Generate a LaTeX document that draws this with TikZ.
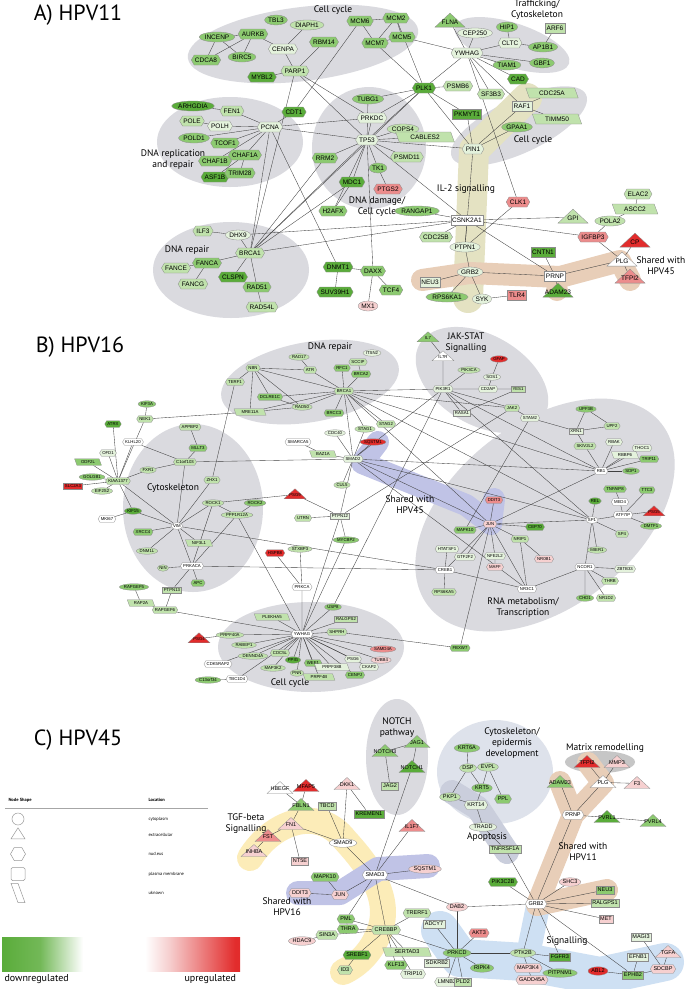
\documentclass[tikz,border=0pt]{standalone}
\usepackage{fontspec}
\setmainfont{Liberation Sans}
\newfontfamily\labfont{PT Sans}
\usetikzlibrary{shapes.geometric,shapes.symbols}

\definecolor{cg4}{RGB}{90,172,58}
\definecolor{cg3}{RGB}{140,202,112}
\definecolor{cg2}{RGB}{192,226,172}
\definecolor{cg1}{RGB}{228,242,220}
\definecolor{cr1}{RGB}{246,208,208}
\definecolor{cr2}{RGB}{236,140,140}
\definecolor{cr3}{RGB}{226,44,44}
\definecolor{blobgray}{RGB}{218,218,223}
\definecolor{iltwo}{RGB}{228,226,194}
\definecolor{bandtan}{RGB}{232,206,184}
\definecolor{lav}{RGB}{192,195,230}
\definecolor{yel}{RGB}{252,236,184}
\definecolor{sky}{RGB}{206,224,243}
\definecolor{apop}{RGB}{202,206,220}
\definecolor{epid}{RGB}{222,226,235}

\pgfdeclarelayer{blobs}
\pgfdeclarelayer{links}
\pgfsetlayers{blobs,links,main}

\pgfdeclarehorizontalshading{regbar}{100bp}{color(0bp)=(cg4); color(25bp)=(cg4); color(33bp)=(cg4!85); color(42bp)=(white); color(55bp)=(white); color(60bp)=(cr1); color(74bp)=(cr3); color(100bp)=(cr3)}

\newcommand\tridrop{0pt}
\newcommand\tritext[1]{\smash{\makebox[0pt]{\raisebox{-\tridrop}{#1}}}}

\begin{document}
\begin{tikzpicture}[x=1pt,y=-1pt]
  \tikzset{
    gene/.style={draw=black!45, line width=0.3pt},
    ell/.style={gene, ellipse, inner xsep=0.3pt, inner ysep=0pt},
    hex/.style={gene, signal, signal to=east and west, signal pointer angle=120, inner xsep=0.8pt, inner ysep=0.6pt},
    box/.style={gene, rectangle, inner xsep=1.5pt, inner ysep=0.6pt},
    par/.style={gene, trapezium, trapezium left angle=110, trapezium right angle=70, inner xsep=0.3pt, inner ysep=0.6pt},
    tri/.style={gene, isosceles triangle, isosceles triangle apex angle=110, shape border rotate=90, isosceles triangle stretches, inner sep=0pt},
    sa/.style={font=\fontsize{6.5}{6.5}\selectfont, minimum height=10pt},
    sb/.style={font=\fontsize{4.3}{4.3}\selectfont, minimum height=6.5pt},
    sc/.style={font=\fontsize{5.5}{5.5}\selectfont, minimum height=8.5pt},
    ta/.style={tri, font=\fontsize{6.5}{6.5}\selectfont, minimum width=30pt, minimum height=14pt, yshift=0.8pt, /utils/exec={\def\tridrop{3.1pt}}},
    tb/.style={tri, font=\fontsize{4.3}{4.3}\selectfont, minimum width=22pt, minimum height=10pt, yshift=0.5pt, /utils/exec={\def\tridrop{2pt}}},
    tc/.style={tri, font=\fontsize{5.5}{5.5}\selectfont, minimum width=26pt, minimum height=12pt, yshift=0.6pt, /utils/exec={\def\tridrop{2.5pt}}},
    g4/.style={fill=cg4}, g3/.style={fill=cg3}, g2/.style={fill=cg2}, g1/.style={fill=cg1},
    g0/.style={fill=white},
    r1/.style={fill=cr1}, r2/.style={fill=cr2}, r3/.style={fill=cr3},
    link/.style={draw=black!75, line width=0.35pt},
    blob/.style={fill=blobgray},
    band/.style={line cap=round, line join=round},
    grp/.style={font=\labfont\fontsize{9.5}{11}\selectfont, align=center},
    title/.style={font=\labfont\fontsize{22}{22}\selectfont},
    legshape/.style={draw=gray!80, line width=0.5pt, fill=white, inner sep=0pt},
    legtext/.style={anchor=west, font=\labfont\fontsize{4.5}{5}\selectfont},
  }
  \useasboundingbox (0,0) rectangle (685,989);

  % ---------- A) HPV11
  \node[title] (titleA) at (78,15) {A) HPV11};
  \node[grp] (lccA) at (333,10) {Cell cycle};
  \node[grp] (ltraf) at (537,10) {Trafficking/\\Cytoskeleton};
  \node[grp] (lrepl) at (173,160) {DNA replication\\and repair};
  \node[grp] (ldam) at (377,207) {DNA damage/\\Cell cycle};
  \node[grp] (lil2) at (466,189) {IL-2 signalling};
  \node[grp] (lccA2) at (533,140) {Cell cycle};
  \node[grp] (lrepA) at (187,250) {DNA repair};
  \node[grp] (lshA) at (661,266) {Shared with\\HPV45};

  \node[ell,sa,g3] (incenp) at (217,37) {INCENP};
  \node[hex,sa,g3] (cdca8) at (206,60) {CDCA8};
  \node[hex,sa,g3] (aurkb) at (253,34) {AURKB};
  \node[ell,sa,g3] (birc5) at (242,57) {BIRC5};
  \node[ell,sa,g3] (tbl3) at (276,20) {TBL3};
  \node[ell,sa,g2] (diaph1) at (307,25) {DIAPH1};
  \node[hex,sa,g1] (cenpa) at (283,49) {CENPA};
  \node[hex,sa,g3] (rbm14) at (324,42) {RBM14};
  \node[hex,sa,g2] (parp1) at (295,71) {PARP1};
  \node[hex,sa,g4] (mybl2) at (262,77) {MYBL2};
  \node[hex,sa,g3] (mcm6) at (360,21) {MCM6};
  \node[hex,sa,g3] (mcm2) at (396,18) {MCM2};
  \node[hex,sa,g3] (mcm7) at (375,43) {MCM7};
  \node[hex,sa,g3] (mcm5) at (402,37) {MCM5};

  \node[ta,g3] (flna) at (450,22) {\tritext{FLNA}};
  \node[ell,sa,g1] (cep250) at (475,33) {CEP250};
  \node[ell,sa,g3] (hip1) at (507,27) {HIP1};
  \node[box,sa,g2] (arf6) at (555,28) {ARF6};
  \node[hex,sa,g1] (cltc) at (510,43) {CLTC};
  \node[ell,sa,g3] (ap1b1) at (543,47) {AP1B1};
  \node[hex,sa,g1] (ywhagA) at (467,53) {YWHAG};
  \node[ell,sa,g3] (tiam1) at (507,65) {TIAM1};
  \node[ell,sa,g3] (gbf1) at (542,63) {GBF1};
  \node[hex,sa,g4] (cad) at (518,79) {CAD};
  \node[hex,sa,g2] (psmb6) at (458,86) {PSMB6};
  \node[hex,sa,g2] (sf3b3) at (491,94) {SF3B3};
  \node[box,sa,g1] (raf1) at (522,106) {RAF1};
  \node[par,sa,g2] (cdc25a) at (552,93) {CDC25A};
  \node[par,sa,g2] (timm50) at (557,119) {TIMM50};
  \node[box,sa,g4] (pkmyt1) at (467,114) {PKMYT1};
  \node[ell,sa,g3] (gpaa1) at (517,127) {GPAA1};
  \node[hex,sa,g1] (pin1) at (473,149) {PIN1};
  \node[hex,sa,g4] (plk1) at (424,88) {PLK1};

  \node[ell,sa,g4] (arhgdia) at (193,106) {ARHGDIA};
  \node[hex,sa,g2] (fen1) at (232,111) {FEN1};
  \node[hex,sa,g2] (pole) at (192,121) {POLE};
  \node[hex,sa,g1] (polh) at (220,126) {POLH};
  \node[hex,sa,g1] (pcna) at (270,127) {PCNA};
  \node[ell,sa,g3] (pold1) at (194,138) {POLD1};
  \node[hex,sa,g3] (tcof1) at (225,143) {TCOF1};
  \node[hex,sa,g3] (chaf1b) at (215,161) {CHAF1B};
  \node[hex,sa,g3] (chaf1a) at (245,155) {CHAF1A};
  \node[hex,sa,g4] (asf1b) at (215,177) {ASF1B};
  \node[hex,sa,g3] (trim28) at (240,173) {TRIM28};
  \node[hex,sa,g4] (cdt1) at (294,112) {CDT1};

  \node[ell,sa,g3] (tubg1) at (368,99) {TUBG1};
  \node[hex,sa,g1] (prkdc) at (372,118) {PRKDC};
  \node[ell,sa,g2] (cops4) at (403,129) {COPS4};
  \node[par,sa,g2] (cables2) at (425,137) {CABLES2};
  \node[hex,sa,g1] (tp53) at (367,140) {TP53};
  \node[hex,sa,g3] (rrm2) at (325,158) {RRM2};
  \node[hex,sa,g2] (psmd11) at (407,157) {PSMD11};
  \node[ell,sa,g3] (tk1) at (378,168) {TK1};
  \node[hex,sa,g4] (mdc1) at (352,182) {MDC1};
  \node[hex,sa,r2] (ptgs2) at (388,189) {PTGS2};
  \node[hex,sa,g3] (h2afx) at (333,211) {H2AFX};
  \node[ell,sa,g3] (rangap1) at (417,211) {RANGAP1};
  \node[hex,sa,g2] (cdc25b) at (436,237) {CDC25B};

  \node[box,sa,g0] (csnk2a1) at (467,220) {CSNK2A1};
  \node[hex,sa,r2] (clk1) at (518,202) {CLK1};
  \node[hex,sa,g2] (elac2) at (638,194) {ELAC2};
  \node[par,sa,g2] (ascc2) at (635,209) {ASCC2};
  \node[ta,g2] (gpi) at (573,218) {\tritext{GPI}};
  \node[ell,sa,g2] (pola2) at (610,221) {POLA2};
  \node[hex,sa,r2] (igfbp3) at (593,237) {IGFBP3};
  \node[ta,r3] (cp) at (635,242) {\tritext{CP}};
  \node[ell,sa,g1] (ptpn1) at (465,247) {PTPN1};
  \node[box,sa,g4] (cntn1) at (543,252) {CNTN1};
  \node[ell,sa,g1] (grb2A) at (470,272) {GRB2};
  \node[ell,sa,g3] (rps6ka1) at (447,297) {RPS6KA1};
  \node[ell,sa,g1] (syk) at (482,299) {SYK};
  \node[box,sa,r2] (tlr4) at (517,295) {TLR4};
  \node[box,sa,g0] (prnpA) at (555,276) {PRNP};
  \node[ta,g4] (adam23A) at (558,292) {\tritext{ADAM23}};
  \node[ta,g0] (plgA) at (622,261) {\tritext{PLG}};
  \node[ta,r2] (tfpi2A) at (630,278) {\tritext{TFPI2}};
  \node[box,sa,g1] (neu3A) at (430,282) {NEU3};

  \node[ell,sa,g1] (dhx9) at (238,235) {DHX9};
  \node[hex,sa,g2] (ilf3) at (203,231) {ILF3};
  \node[hex,sa,g2] (brca1A) at (250,253) {BRCA1};
  \node[hex,sa,g2] (fance) at (176,268) {FANCE};
  \node[hex,sa,g3] (fanca) at (207,263) {FANCA};
  \node[hex,sa,g2] (fancg) at (193,284) {FANCG};
  \node[hex,sa,g4] (clspn) at (233,277) {CLSPN};
  \node[hex,sa,g3] (rad51) at (257,287) {RAD51};
  \node[hex,sa,g2] (rad54l) at (262,307) {RAD54L};
  \node[hex,sa,g4] (dnmt1) at (338,267) {DNMT1};
  \node[hex,sa,g3] (daxx) at (373,271) {DAXX};
  \node[hex,sa,g4] (suv39h1) at (335,292) {SUV39H1};
  \node[hex,sa,g3] (tcf4) at (391,290) {TCF4};
  \node[ell,sa,r1] (mx1) at (368,306) {MX1};

  % ---------- B) HPV16
  \node[title] (titleB) at (80,347) {B) HPV16};
  \node[grp] (lrepB) at (330,347) {DNA repair};
  \node[grp] (ljak) at (466,343) {JAK-STAT\\Signalling};
  \node[grp] (lcyto) at (173,488) {Cytoskeleton};
  \node[grp] (lshB) at (410,505) {Shared with\\HPV45};
  \node[grp] (lrna) at (523,608) {RNA metabolism/\\Transcription};
  \node[grp] (lccB) at (290,683) {Cell cycle};

  \node[ell,sb,g3] (kif3a) at (147,404) {KIF3A};
  \node[hex,sb,g2] (nek1) at (145,419) {NEK1};
  \node[hex,sb,g4] (atrx) at (113,424) {ATRX};
  \node[hex,sb,g2] (appbp2) at (190,427) {APPBP2};
  \node[hex,sb,g0] (klhl20) at (133,442) {KLHL20};
  \node[hex,sb,g1] (ofd1) at (108,453) {OFD1};
  \node[hex,sb,g3] (mllt3) at (198,448) {MLLT3};
  \node[par,sb,g3] (odf2l) at (88,462) {ODF2L};
  \node[hex,sb,g2] (c1orf103) at (185,462) {C1orf103};
  \node[ell,sb,g2] (fxr1) at (148,470) {FXR1};
  \node[ell,sb,g3] (golgb1) at (92,477) {GOLGB1};
  \node[hex,sb,g2] (kiaa1377) at (118,481) {KIAA1377};
  \node[hex,sb,g2] (zhx1) at (212,480) {ZHX1};
  \node[box,sb,r3] (slc2a3) at (73,486) {SLC2A3};
  \node[ell,sb,g2] (eif2s2) at (102,491) {EIF2S2};
  \node[ell,sb,g4] (kif15) at (133,511) {KIF15};
  \node[hex,sb,g0] (mki67) at (107,519) {MKI67};
  \node[ell,sb,g0] (vim) at (177,526) {VIM};
  \node[hex,sb,g3] (xrcc4) at (143,532) {XRCC4};
  \node[par,sb,g2] (nif3l1) at (199,543) {NIF3L1};
  \node[ell,sb,g2] (dnm1l) at (147,551) {DNM1L};
  \node[ell,sb,g2] (nin) at (163,568) {NIN};
  \node[hex,sb,g0] (prkaca) at (192,566) {PRKACA};
  \node[hex,sb,g3] (apc) at (198,583) {APC};
  \node[box,sb,g2] (ptpn13) at (172,590) {PTPN13};
  \node[ell,sb,g3] (rapgef5) at (134,587) {RAPGEF5};
  \node[par,sb,g2] (rap2a) at (141,603) {RAP2A};
  \node[hex,sb,g2] (rapgef6) at (165,610) {RAPGEF6};
  \node[ell,sb,g2] (rock1) at (213,503) {ROCK1};
  \node[ell,sb,g3] (rock2) at (255,503) {ROCK2};
  \node[ell,sb,g2] (ppp1r12a) at (237,515) {PPP1R12A};
  \node[tb,r3] (psgA) at (295,495) {\tritext{PSG9}};
  \node[tb,r3] (psgB) at (199,639) {\tritext{PSG4}};
  \node[ell,sb,g2] (prpf40a) at (230,635) {PRPF40A};
  \node[hex,sb,g0] (cdk5rap2) at (218,664) {CDK5RAP2};
  \node[ell,sb,g3] (c13orf34) at (208,680) {C13orf34};
  \node[hex,sb,g0] (tbc1d4) at (237,679) {TBC1D4};

  \node[hex,sb,g2] (terf1) at (235,382) {TERF1};
  \node[ell,sb,g1] (itsn2) at (372,353) {ITSN2};
  \node[ell,sb,g2] (rad17) at (299,357) {RAD17};
  \node[hex,sb,g2] (sccip) at (358,362) {SCCIP};
  \node[hex,sb,g2] (nbn) at (253,368) {NBN};
  \node[hex,sb,g2] (atr) at (310,370) {ATR};
  \node[hex,sb,g3] (rfc1) at (342,368) {RFC1};
  \node[hex,sb,g3] (brca2) at (361,374) {BRCA2};
  \node[hex,sb,g2] (brca1B) at (344,391) {BRCA1};
  \node[hex,sb,g3] (dclre1c) at (270,397) {DCLRE1C};
  \node[ell,sb,g2] (rad50) at (302,407) {RAD50};
  \node[par,sb,g2] (mre11a) at (250,412) {MRE11A};
  \node[hex,sb,g3] (brcc3) at (334,413) {BRCC3};
  \node[hex,sb,g2] (stag2) at (386,424) {STAG2};
  \node[ell,sb,g2] (stag1) at (365,429) {STAG1};
  \node[ell,sb,g1] (cdc40) at (335,433) {CDC40};
  \node[ell,sb,r3] (sqstm1B) at (373,442) {SQSTM1};
  \node[hex,sb,g0] (smarca5) at (298,442) {SMARCA5};
  \node[par,sb,g2] (baz1a) at (323,454) {BAZ1A};
  \node[hex,sb,g1] (smad2) at (353,459) {SMAD2};
  \node[ell,sb,g2] (cul5) at (342,485) {CUL5};

  \node[tb,g3] (il7) at (428,338) {\tritext{IL7}};
  \node[tb,g0] (il7r) at (443,357) {\tritext{IL7R}};
  \node[hex,sb,g1] (pik3r1) at (443,389) {PIK3R1};
  \node[ell,sb,r3] (gfap) at (499,359) {GFAP};
  \node[ell,sb,g2] (pik3ca) at (469,370) {PIK3CA};
  \node[ell,sb,g1] (sos1) at (492,377) {SOS1};
  \node[hex,sb,g1] (cd2ap) at (488,389) {CD2AP};
  \node[box,sb,g2] (yes1) at (518,389) {YES1};
  \node[box,sb,g1] (rasa1) at (462,413) {RASA1};
  \node[hex,sb,g2] (jak2) at (512,408) {JAK2};
  \node[hex,sb,g1] (stam2) at (530,418) {STAM2};

  \node[ell,sb,g3] (upf3b) at (586,409) {UPF3B};
  \node[box,sb,g1] (xrn1) at (576,431) {XRN1};
  \node[hex,sb,g2] (upf2) at (612,426) {UPF2};
  \node[hex,sb,g2] (skiv2l2) at (585,446) {SKIV2L2};
  \node[hex,sb,g1] (rbak) at (614,442) {RBAK};
  \node[hex,sb,g1] (thoc1) at (642,448) {THOC1};
  \node[par,sb,g1] (rbbp6) at (625,455) {RBBP6};
  \node[hex,sb,g3] (trip11) at (649,459) {TRIP11};
  \node[hex,sb,g0] (rb1) at (601,471) {RB1};
  \node[ell,sb,g3] (sdp1) at (631,471) {SDP1};
  \node[hex,sb,g3] (tnfaip8) at (615,489) {TNFAIP8};
  \node[hex,sb,g3] (ttc3) at (647,490) {TTC3};
  \node[ell,sb,g4] (rel) at (595,501) {REL};
  \node[hex,sb,g0] (med4) at (620,502) {MED4};
  \node[hex,sb,g0] (atf7ip) at (623,515) {ATF7IP};
  \node[tb,r3] (psgC) at (654,512) {\tritext{PSG5}};
  \node[ell,sb,g3] (dmtf1) at (651,526) {DMTF1};
  \node[ell,sb,g0] (sp1) at (592,520) {SP1};
  \node[hex,sb,g2] (sp4) at (622,534) {SP4};
  \node[ell,sb,g2] (mier1) at (597,550) {MIER1};
  \node[hex,sb,g0] (ncor1) at (585,567) {NCOR1};
  \node[hex,sb,g1] (zbtb33) at (625,569) {ZBTB33};
  \node[hex,sb,g2] (thrb) at (610,581) {THRB};
  \node[ell,sb,g3] (chd1) at (585,598) {CHD1};
  \node[hex,sb,g2] (nr1d2) at (606,598) {NR1D2};
  \node[hex,sb,r2] (ddit3B) at (494,500) {DDIT3};
  \node[hex,sb,r1] (junB) at (490,524) {JUN};
  \node[hex,sb,g3] (mapk10B) at (465,530) {MAPK10};
  \node[hex,sb,g4] (cep70) at (535,527) {CEP70};
  \node[hex,sb,g2] (nrip1) at (520,539) {NRIP1};
  \node[hex,sb,g1] (gtf2f2) at (465,557) {GTF2F2};
  \node[hex,sb,g1] (nfe2l2) at (495,556) {NFE2L2};
  \node[hex,sb,r1] (nr0b1) at (544,559) {NR0B1};
  \node[hex,sb,r1] (maff) at (495,567) {MAFF};
  \node[hex,sb,g0] (nr3c1) at (527,589) {NR3C1};
  \node[hex,sb,g3] (fbxw7) at (460,648) {FBXW7};
  \node[hex,sb,g1] (htatsf1) at (447,549) {HTATSF1};
  \node[hex,sb,g0] (creb1) at (445,570) {CREB1};
  \node[hex,sb,g2] (rps6ka5) at (444,592) {RPS6KA5};

  \node[hex,sb,g2] (utrn) at (303,518) {UTRN};
  \node[box,sb,g1] (ptpn12) at (340,516) {PTPN12};
  \node[ell,sb,g3] (mycbp2) at (346,540) {MYCBP2};
  \node[ell,sb,g2] (stxbp3) at (300,549) {STXBP3};
  \node[hex,sb,r3] (hspb8) at (275,553) {HSPB8};
  \node[hex,sb,g0] (prkca) at (302,587) {PRKCA};

  \node[ell,sb,g3] (usp8) at (333,607) {USP8};
  \node[par,sb,g2] (plekha5) at (272,617) {PLEKHA5};
  \node[box,sb,g2] (ralgps2) at (346,619) {RALGPS2};
  \node[hex,sb,g0] (ywhagB) at (302,634) {YWHAG};
  \node[hex,sb,g2] (shprh) at (337,632) {SHPRH};
  \node[ell,sb,g2] (rabep1) at (244,645) {RABEP1};
  \node[ell,sb,r2] (samd4a) at (383,649) {SAMD4A};
  \node[ell,sb,g2] (dennd4a) at (253,656) {DENND4A};
  \node[hex,sb,g2] (cdc5l) at (280,653) {CDC5L};
  \node[hex,sb,g1] (pis6) at (353,659) {PSG6};
  \node[ell,sb,r1] (tubb4) at (381,660) {TUBB4};
  \node[ell,sb,g4] (ppig) at (293,660) {PPIG};
  \node[hex,sb,g3] (wee1) at (313,663) {WEE1};
  \node[par,sb,g1] (prpf38b) at (332,667) {PRPF38B};
  \node[hex,sb,g1] (ckap2) at (369,667) {CKAP2};
  \node[ell,sb,g2] (map3k2) at (273,668) {MAP3K2};
  \node[ell,sb,g2] (pnn) at (297,673) {PNN};
  \node[par,sb,g2] (prpf4b) at (319,677) {PRPF4B};
  \node[hex,sb,g3] (cenpj) at (355,675) {CENPJ};

  % ---------- C) HPV45
  \node[title] (titleC) at (78,740) {C) HPV45};
  \node[grp] (lnotch) at (397,728) {NOTCH\\pathway};
  \node[grp] (ltgf) at (246,824) {TGF-beta\\Signalling};
  \node[grp] (lshC16) at (287,907) {Shared with\\HPV16};
  \node[grp] (lepid) at (512,743) {Cytoskeleton/\\epidermis\\development};
  \node[grp] (lmatrix) at (605,748) {Matrix remodelling};
  \node[grp] (lapop) at (487,837) {Apoptosis};
  \node[grp] (lshC11) at (583,852) {Shared with\\HPV11};
  \node[grp] (lsig) at (567,941) {Signalling};

  \node[tc,g3] (jag1) at (417,743) {\tritext{JAG1}};
  \node[tc,g3] (notch3) at (385,752) {\tritext{NOTCH3}};
  \node[tc,g4] (notch1) at (412,768) {\tritext{NOTCH1}};
  \node[box,sc,g2] (jag2) at (390,786) {JAG2};
  \node[tc,g0] (hbegf) at (280,789) {\tritext{HBEGF}};
  \node[tc,r3] (mfap5) at (306,787) {\tritext{MFAP5}};
  \node[tc,g3] (fbln1) at (301,806) {\tritext{FBLN1}};
  \node[tc,r1] (dkk1) at (347,785) {\tritext{DKK1}};
  \node[box,sc,g2] (tbcd) at (327,806) {TBCD};
  \node[box,sc,g4] (kremen1) at (369,814) {KREMEN1};
  \node[tc,r1] (fn1) at (291,825) {\tritext{FN1}};
  \node[tc,r2] (fst) at (268,837) {\tritext{FST}};
  \node[tc,r1] (inhba) at (254,852) {\tritext{INHBA}};
  \node[box,sc,r1] (nt5e) at (300,861) {NT5E};
  \node[ell,sc,g0] (smad9) at (343,843) {SMAD9};
  \node[tc,r2] (il1f7) at (412,827) {\tritext{IL1F7}};
  \node[hex,sc,g0] (smad3) at (375,875) {SMAD3};
  \node[ell,sc,r1] (sqstm1C) at (425,869) {SQSTM1};
  \node[hex,sc,g3] (mapk10C) at (325,877) {MAPK10};
  \node[hex,sc,r1] (ddit3C) at (300,893) {DDIT3};
  \node[hex,sc,r1] (junC) at (340,895) {JUN};
  \node[hex,sc,g3] (pml) at (346,919) {PML};
  \node[hex,sc,g2] (trerf1) at (417,913) {TRERF1};
  \node[hex,sc,g3] (thra) at (348,929) {THRA};
  \node[hex,sc,g2] (crebbp) at (386,930) {CREBBP};
  \node[box,sc,g1] (adcy7) at (434,924) {ADCY7};
  \node[hex,sc,g2] (sin3a) at (327,935) {SIN3A};
  \node[ell,sc,r1] (hdac9) at (302,941) {HDAC9};
  \node[par,sc,g2] (sertad3) at (407,952) {SERTAD3};
  \node[hex,sc,g4] (srebf1) at (357,955) {SREBF1};
  \node[box,sc,g1] (sdkrb2) at (437,963) {SDKRB2};
  \node[hex,sc,g3] (klf13) at (396,965) {KLF13};
  \node[hex,sc,g2] (id3) at (345,970) {ID3};
  \node[hex,sc,g1] (trip10) at (413,974) {TRIP10};
  \node[hex,sc,g1] (lmnb2) at (447,982) {LMNB2};

  \node[ell,sc,g3] (krt6a) at (467,748) {KRT6A};
  \node[ell,sc,g2] (dsp) at (468,768) {DSP};
  \node[ell,sc,g2] (evpl) at (488,767) {EVPL};
  \node[ell,sc,g3] (krt5) at (482,788) {KRT5};
  \node[ell,sc,g2] (pkp1) at (450,797) {PKP1};
  \node[hex,sc,g3] (ppl) at (503,799) {PPL};
  \node[hex,sc,g1] (krt14) at (476,805) {KRT14};
  \node[ell,sc,g1] (tradd) at (483,827) {TRADD};
  \node[box,sc,g2] (tnfrsf1a) at (505,849) {TNFRSF1A};
  \node[hex,sc,g4] (pik3c2b) at (503,882) {PIK3C2B};
  \node[ell,sc,r1] (shc3) at (570,882) {SHC3};
  \node[box,sc,g3] (neu3C) at (605,890) {NEU3};
  \node[hex,sc,g0] (grb2C) at (536,904) {GRB2};
  \node[box,sc,g2] (ralgps1) at (605,903) {RALGPS1};
  \node[box,sc,r1] (met) at (606,919) {MET};
  \node[ell,sc,r1] (dab2) at (457,907) {DAB2};
  \node[hex,sc,r2] (akt3) at (479,933) {AKT3};
  \node[ell,sc,g3] (prkcd) at (457,953) {PRKCD};
  \node[ell,sc,g2] (ptk2b) at (523,953) {PTK2B};
  \node[box,sc,g4] (fgfr3) at (560,957) {FGFR3};
  \node[ell,sc,g3] (ripk4) at (482,968) {RIPK4};
  \node[hex,sc,r1] (map3k4) at (528,968) {MAP3K4};
  \node[ell,sc,g3] (pitpnm1) at (560,973) {PITPNM1};
  \node[hex,sc,r1] (gadd45a) at (532,980) {GADD45A};
  \node[box,sc,g2] (pld2) at (463,982) {PLD2};
  \node[box,sc,g1] (magi3) at (641,937) {MAGI3};
  \node[box,sc,g1] (efnb1) at (638,957) {EFNB1};
  \node[tc,r1] (tgfa) at (668,953) {\tritext{TGFA}};
  \node[ell,sc,r3] (abl2) at (598,971) {ABL2};
  \node[box,sc,g3] (ephb2) at (633,975) {EPHB2};
  \node[hex,sc,r1] (sdcbp) at (663,969) {SDCBP};
  \node[tc,r3] (tfpi2C) at (587,763) {\tritext{TFPI2}};
  \node[tc,r1] (mmp3) at (617,763) {\tritext{MMP3}};
  \node[tc,g0] (plgC) at (603,783) {\tritext{PLG}};
  \node[tc,r1] (f3) at (637,784) {\tritext{F3}};
  \node[tc,g3] (adam23C) at (560,783) {\tritext{ADAM23}};
  \node[hex,sc,g0] (prnpC) at (573,815) {PRNP};
  \node[tc,g4] (pvrl1) at (607,818) {\tritext{PVRL1}};
  \node[tc,g3] (pvrl4) at (653,822) {\tritext{PVRL4}};

  % legend
  \node[anchor=west, font=\labfont\bfseries\fontsize{4.5}{5}\selectfont] (shapehead) at (5,800) {Node Shape};
  \node[anchor=west, font=\labfont\bfseries\fontsize{4.5}{5}\selectfont] (lochead) at (145,800) {Location};
  \draw[gray!70, line width=0.5pt] (5,808) -- (208,808);
  \node[legshape, circle, minimum size=12pt] (legcyto) at (18,819) {};
  \node[legshape, isosceles triangle, isosceles triangle apex angle=70, shape border rotate=90, isosceles triangle stretches, minimum width=14pt, minimum height=11pt] (legextra) at (18,835) {};
  \node[legshape, regular polygon, regular polygon sides=6, minimum size=15pt] (legnuc) at (18,854) {};
  \node[legshape, rectangle, rounded corners=1.5pt, minimum width=14pt, minimum height=13pt] (legpm) at (18,874) {};
  \node[legshape, trapezium, trapezium left angle=110, trapezium right angle=70, minimum width=14pt, minimum height=12pt] (legunk) at (18,893) {\rule{0pt}{4pt}};
  \node[legtext] (tcyto) at (145,819) {cytoplasm};
  \node[legtext] (textra) at (145,835) {extracellular};
  \node[legtext] (tnuc) at (145,854) {nucleus};
  \node[legtext] (tpm) at (145,874) {plasma membrane};
  \node[legtext] (tunk) at (145,893) {uknown};
  \fill[shading=regbar] (2,937) rectangle (240,971);
  \node[anchor=west, font=\labfont\fontsize{10}{10}\selectfont] (tdown) at (1,979) {downregulated};
  \node[anchor=west, font=\labfont\fontsize{10}{10}\selectfont] (tup) at (181,979) {upregulated};

  % ---------- background groups
  \begin{pgfonlayer}{blobs}
    \fill[white] (0,0) rectangle (685,989);
    \fill[blob, rotate around={7:(303,44)}] (303,44) ellipse [x radius=116, y radius=37];
    \fill[blob] (230,142) ellipse [x radius=73, y radius=45];
    \fill[blob] (369,148) ellipse [x radius=57, y radius=61];
    \fill[blob, rotate around={-18:(512,45)}] (512,45) ellipse [x radius=60, y radius=22];
    \fill[blob, rotate around={25:(519,126)}] (519,126) ellipse [x radius=74, y radius=27];
    \fill[blob] (231,270) ellipse [x radius=78, y radius=48];
    \draw[band, draw=iltwo, line width=30pt] (527,98) -- (474,150) -- (468,298);
    \draw[band, draw=bandtan, line width=22pt] (422,280) -- (470,273) -- (560,277) -- (620,261) -- (630,280);
    \fill[bandtan] (557,290) circle [radius=11];

    \fill[blob, rotate around={10:(310,382)}] (310,382) ellipse [x radius=90, y radius=40];
    \fill[blob, rotate around={-30:(482,380)}] (482,380) ellipse [x radius=72, y radius=45];
    \fill[blob] (193,508) ellipse [x radius=70, y radius=84];
    \fill[blob, rotate around={38:(545,515)}] (545,515) ellipse [x radius=148, y radius=92];
    \fill[blob] (311,647) ellipse [x radius=93, y radius=45];
    \draw[band, draw=lav, line width=22pt] (378,442) -- (362,463) -- (466,505) -- (491,524) -- (494,499);

    \fill[blob] (397,757) ellipse [x radius=31, y radius=58];
    \fill[epid] (495,772) ellipse [x radius=58, y radius=52];
    \fill[gray!45] (600,762) ellipse [x radius=35, y radius=11];
    \draw[band, draw=apop, line width=24pt] (452,792) -- (478,808) -- (507,852);
    \draw[band, draw=sky, line width=38pt] (440,930) -- (460,958) -- (525,962) -- (600,976) -- (665,962);
    \draw[band, draw=sky, line width=24pt] (528,955) -- (538,906);
    \draw[band, draw=yel, line width=26pt] (250,858) .. controls (272,822) and (318,805) .. (345,840) .. controls (365,862) and (392,895) .. (380,930) .. controls (372,952) and (358,965) .. (343,972);
    \draw[band, draw=lav, line width=24pt] (298,893) -- (340,893) -- (378,869) -- (428,866);
    \draw[band, draw=bandtan, line width=22pt] (560,782) -- (573,815) -- (537,905) -- (607,890) (588,763) -- (603,783) -- (573,815);
  \end{pgfonlayer}

  % ---------- interactions
  \begin{pgfonlayer}{links}
    \path[link] (incenp) edge (aurkb) edge (cdca8) edge (birc5);
    \path[link] (aurkb) edge (cdca8) edge (birc5) edge (cenpa);
    \path[link] (parp1) edge (cenpa) edge (rbm14) edge (mybl2) edge (tp53) edge (prkdc) edge (brca1A);
    \path[link] (cenpa) edge (diaph1);
    \path[link] (mcm6) edge (mcm2) edge (mcm7) edge (cdt1);
    \path[link] (mcm2) edge (mcm7) edge (mcm5) edge (plk1);
    \path[link] (mcm7) edge (mcm5) edge (plk1);
    \path[link] (mcm5) edge (ywhagA);
    \path[link] (plk1) edge (tubg1) edge (prkdc) edge (ywhagA) edge (psmb6) edge (pkmyt1) edge (pin1) edge (tp53) edge (brca1A);
    \path[link] (pcna) edge (fen1) edge (polh) edge (pold1) edge (tcof1) edge (chaf1a) edge (chaf1b) edge (cdt1) edge (prkdc) edge (tp53) edge (brca1A) edge (dnmt1);
    \path[link] (arhgdia) edge (fen1);
    \path[link] (pole) edge (polh);
    \path[link] (chaf1a) edge (chaf1b) edge (asf1b) edge (trim28);
    \path[link] (tp53) edge (prkdc) edge (tubg1) edge (cops4) edge (cables2) edge (psmd11) edge (tk1) edge (mdc1) edge (rrm2) edge (csnk2a1) edge (pin1) edge (daxx) edge (brca1A) edge (h2afx);
    \path[link] (tk1) edge (ptgs2);
    \path[link] (mdc1) edge (h2afx) edge (brca1A);
    \path[link] (rrm2) edge (brca1A);
    \path[link] (ywhagA) edge (cep250) edge (cltc) edge (tiam1) edge (gbf1) edge (cad) edge (sf3b3) edge (raf1) edge (flna) edge (clk1);
    \path[link] (cltc) edge (hip1) edge (ap1b1);
    \path[link] (ap1b1) edge (arf6);
    \path[link] (raf1) edge (cdc25a) edge (timm50) edge (pin1);
    \path[link] (pin1) edge (gpaa1) edge (pkmyt1) edge (ptpn1);
    \path[link] (csnk2a1) edge (ptpn1) edge (gpi) edge (igfbp3) edge (prnpA) edge (brca1A) edge (rangap1) edge (cdc25b) edge (dhx9);
    \path[link] (clk1) edge (ptpn1);
    \path[link] (igfbp3) edge (pola2) edge (plgA);
    \path[link] (pola2) edge (ascc2);
    \path[link] (ascc2) edge (elac2);
    \path[link] (plgA) edge (cp) edge (tfpi2A) edge (prnpA);
    \path[link] (prnpA) edge (cntn1) edge (adam23A) edge (grb2A);
    \path[link] (grb2A) edge (neu3A) edge (ptpn1) edge (syk) edge (rps6ka1);
    \path[link] (syk) edge (tlr4);
    \path[link] (brca1A) edge (clspn) edge (rad51) edge (fanca) edge (dhx9);
    \path[link] (ilf3) edge (dhx9);
    \path[link] (rad51) edge (rad54l);
    \path[link] (fanca) edge (fance) edge (fancg);
    \path[link] (dnmt1) edge (daxx) edge (suv39h1);
    \path[link] (daxx) edge (tcf4) edge (mx1);

    \path[link] (nek1) edge (kif3a) edge (kiaa1377) edge (mre11a);
    \path[link] (kiaa1377) edge (atrx) edge (ofd1) edge (klhl20) edge (odf2l) edge (golgb1) edge (slc2a3) edge (eif2s2) edge (fxr1) edge (kif15) edge (vim);
    \path[link] (c1orf103) edge (klhl20) edge (mllt3) edge (fxr1) edge (vim) edge (smad2);
    \path[link] (mllt3) edge (appbp2);
    \path[link] (zhx1) edge (vim) edge (terf1);
    \path[link] (kif15) edge (mki67);
    \path[link] (vim) edge (rock1) edge (xrcc4) edge (dnm1l) edge (nif3l1) edge (prkaca) edge (kif15) edge (creb1);
    \path[link] (prkaca) edge (nin) edge (apc) edge (ptpn13) edge (ppp1r12a) edge (rock1) edge (creb1);
    \path[link] (rapgef6) edge (ptpn13) edge (rap2a) edge (ywhagB);
    \path[link] (rap2a) edge (rapgef5);
    \path[link] (ppp1r12a) edge (rock1) edge (rock2) edge (ywhagB);
    \path[link] (psgA) edge (rock1) edge (ptpn12);
    \path[link] (psgB) edge (prpf40a);
    \path[link] (tbc1d4) edge (c13orf34) edge (ywhagB);
    \path[link] (cdk5rap2) edge (ywhagB);
    \path[link] (nbn) edge (terf1) edge (atr) edge (dclre1c) edge (mre11a) edge (rad50) edge (brca1B);
    \path[link] (brca1B) edge (atr) edge (rfc1) edge (brca2) edge (dclre1c) edge (rad50) edge (mre11a) edge (brcc3) edge (stag2) edge (stag1) edge (smad2) edge (pik3r1) edge (jak2) edge (rb1) edge (sp1) edge (junB);
    \path[link] (atr) edge (rad17);
    \path[link] (brca2) edge (sccip);
    \path[link] (rad50) edge (dclre1c) edge (mre11a);
    \path[link] (smad2) edge (cdc40) edge (stag1) edge (sqstm1B) edge (baz1a) edge (cul5) edge (ptpn12) edge (junB) edge (sp1) edge (rb1) edge (nr3c1);
    \path[link] (baz1a) edge (smarca5);
    \path[link] (pik3r1) edge (il7r) edge (pik3ca) edge (cd2ap) edge (jak2) edge (rasa1) edge (rb1) edge (sp1) edge (usp8) edge (smad2);
    \path[link] (il7) edge (il7r);
    \path[link] (cd2ap) edge (sos1) edge (yes1);
    \path[link] (sos1) edge (gfap);
    \path[link] (yes1) edge (rasa1);
    \path[link] (jak2) edge (stam2) edge (ptpn12);
    \path[link] (stam2) edge (xrn1) edge (mapk10B);
    \path[link] (xrn1) edge (upf3b) edge (upf2) edge (skiv2l2);
    \path[link] (upf3b) edge (upf2);
    \path[link] (rb1) edge (skiv2l2) edge (rbak) edge (rbbp6) edge (trip11) edge (sdp1) edge (thoc1) edge (junB);
    \path[link] (sp1) edge (rel) edge (atf7ip) edge (sp4) edge (mier1) edge (ncor1) edge (junB);
    \path[link] (atf7ip) edge (med4) edge (ttc3) edge (psgC) edge (dmtf1);
    \path[link] (med4) edge (tnfaip8);
    \path[link] (ncor1) edge (zbtb33) edge (thrb) edge (chd1) edge (nr1d2) edge (nr3c1);
    \path[link] (junB) edge (ddit3B) edge (mapk10B) edge (nrip1) edge (gtf2f2) edge (nfe2l2) edge (nr3c1) edge (fbxw7) edge (creb1) edge (cep70);
    \path[link] (nfe2l2) edge (maff);
    \path[link] (nrip1) edge (nr0b1) edge (nr3c1);
    \path[link] (creb1) edge (rps6ka5) edge (htatsf1) edge (nr3c1);
    \path[link] (ptpn12) edge (utrn) edge (mycbp2) edge (ywhagB);
    \path[link] (prkca) edge (stxbp3) edge (hspb8) edge (ywhagB);
    \path[link] (ywhagB) edge (plekha5) edge (usp8) edge (ralgps2) edge (shprh) edge (prpf40a) edge (rabep1) edge (dennd4a) edge (cdc5l) edge (ppig) edge (wee1) edge (prpf38b) edge (map3k2) edge (pnn) edge (prpf4b) edge (cenpj) edge (ckap2) edge (pis6) edge (samd4a) edge (tubb4) edge (mycbp2);
    \path[link] (shprh) edge (fbxw7);

    \path[link] (fbln1) edge (hbegf) edge (mfap5) edge (fn1);
    \path[link] (fn1) edge (fst) edge (nt5e) edge (smad9);
    \path[link] (fst) edge (inhba);
    \path[link] (smad9) edge (tbcd) edge (dkk1) edge (smad3);
    \path[link] (dkk1) edge (kremen1);
    \path[link] (notch3) edge (jag1) edge (jag2);
    \path[link] (notch1) edge (jag1) edge (smad3);
    \path[link] (smad3) edge (il1f7) edge (sqstm1C) edge (junC) edge (crebbp) edge (dab2) edge (pml);
    \path[link] (junC) edge (ddit3C) edge (mapk10C);
    \path[link] (crebbp) edge (pml) edge (thra) edge (sin3a) edge (trerf1) edge (sertad3) edge (srebf1) edge (klf13) edge (trip10) edge (prkcd);
    \path[link] (pml) edge (thra);
    \path[link] (sin3a) edge (hdac9);
    \path[link] (srebf1) edge (id3);
    \path[link] (prkcd) edge (adcy7) edge (sdkrb2) edge (lmnb2) edge (pld2) edge (ripk4) edge (akt3) edge (dab2) edge (ptk2b);
    \path[link] (grb2C) edge (dab2) edge (ptk2b) edge (fgfr3) edge (pik3c2b) edge (shc3) edge (neu3C) edge (ralgps1) edge (met) edge (ephb2) edge (tnfrsf1a) edge (prnpC);
    \path[link] (ptk2b) edge (fgfr3) edge (map3k4) edge (pitpnm1);
    \path[link] (map3k4) edge (gadd45a);
    \path[link] (prnpC) edge (adam23C) edge (plgC) edge (pvrl1);
    \path[link] (pvrl1) edge (pvrl4);
    \path[link] (plgC) edge (f3) edge (tfpi2C) edge (mmp3);
    \path[link] (tradd) edge (tnfrsf1a) edge (krt14);
    \path[link] (krt14) edge (krt5) edge (pkp1);
    \path[link] (dsp) edge (krt6a) edge (evpl) edge (krt5) edge (pkp1);
    \path[link] (evpl) edge (krt5) edge (ppl);
    \path[link] (ephb2) edge (efnb1) edge (abl2) edge (sdcbp);
    \path[link] (sdcbp) edge (tgfa) edge (magi3);
  \end{pgfonlayer}
\end{tikzpicture}
\end{document}
